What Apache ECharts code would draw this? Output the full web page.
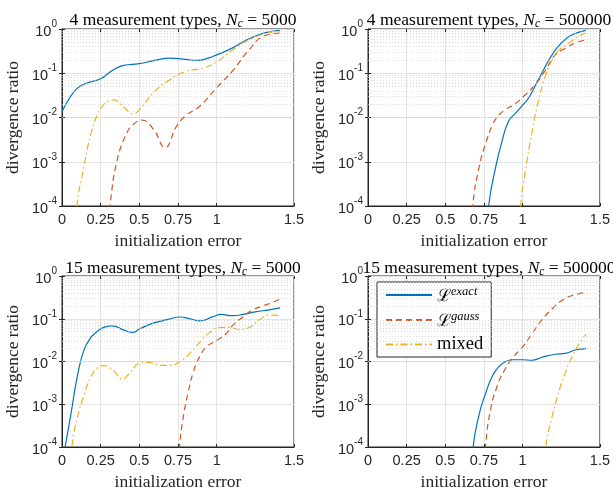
<!DOCTYPE html>
<html><head><meta charset="utf-8">
<script src="https://cdn.jsdelivr.net/npm/echarts@6/dist/echarts.min.js"></script>
<style>html,body{margin:0;padding:0;background:#fff}#c{width:613px;height:492px}</style>
</head><body><div id="c"></div>
<script>
// ---- data (x = initialization error, y = divergence ratio) ----
const xTicks = [0, 0.25, 0.5, 0.75, 1, 1.5];
const yDecades = [1e-4, 1e-3, 1e-2, 1e-1, 1];
const seriesNames = ['exact', 'gauss', 'mixed'];
const panelTitles = [
  ['4 measurement types, ', '5000'],
  ['4 measurement types, ', '500000'],
  ['15 measurement types, ', '5000'],
  ['15 measurement types, ', '500000']
];
// panel 1: 4 types, Nc = 5000
const p1Exact = [[0,0.0135],[0.05,0.028],[0.1,0.046],[0.15,0.058],[0.2,0.066],[0.25,0.075],[0.3,0.1],[0.35,0.13],[0.4,0.15],[0.5,0.165],[0.6,0.195],[0.7,0.22],[0.8,0.205],[0.875,0.195],[0.95,0.222],[1.0,0.26],[1.1,0.37],[1.2,0.58],[1.3,0.8],[1.35,0.87],[1.41,0.93]];
const p1Gauss = [[0.28,1e-5],[0.31,1e-4],[0.357,0.0011],[0.42,0.0045],[0.46,0.0069],[0.517,0.0087],[0.59,0.0055],[0.667,0.0021],[0.74,0.0063],[0.8,0.011],[0.89,0.018],[1.0,0.047],[1.1,0.11],[1.21,0.34],[1.3,0.68],[1.41,0.81]];
const p1Mixed = [[0.08,1e-5],[0.096,1e-4],[0.143,0.0008],[0.186,0.0042],[0.229,0.0118],[0.27,0.0195],[0.3,0.0235],[0.335,0.025],[0.4,0.017],[0.46,0.012],[0.5,0.015],[0.6,0.039],[0.7,0.072],[0.8,0.11],[0.91,0.13],[1.0,0.18],[1.1,0.33],[1.21,0.57],[1.32,0.8],[1.41,0.9]];
// panel 2: 4 types, Nc = 500000
const p2Exact = [[0.76,1e-5],[0.78,1e-4],[0.827,0.0008],[0.87,0.0032],[0.91,0.0083],[0.955,0.0126],[1.0,0.019],[1.04,0.028],[1.08,0.051],[1.13,0.11],[1.19,0.26],[1.25,0.48],[1.32,0.74],[1.41,0.93]];
const p2Gauss = [[0.66,1e-5],[0.677,1e-4],[0.72,0.0008],[0.763,0.0027],[0.806,0.0069],[0.85,0.0117],[0.89,0.015],[0.955,0.021],[1.02,0.033],[1.08,0.055],[1.15,0.12],[1.21,0.26],[1.28,0.37],[1.34,0.48],[1.41,0.57]];
const p2Mixed = [[0.975,1e-5],[0.987,1e-4],[1.02,0.00068],[1.06,0.0045],[1.105,0.026],[1.15,0.093],[1.19,0.2],[1.23,0.32],[1.3,0.48],[1.36,0.68],[1.41,0.81]];
// panel 3: 15 types, Nc = 5000
const p3Exact = [[0,4e-5],[0.02,1e-4],[0.058,0.0006],[0.1,0.0047],[0.143,0.019],[0.186,0.036],[0.229,0.051],[0.27,0.063],[0.325,0.068],[0.4,0.054],[0.453,0.048],[0.506,0.059],[0.59,0.079],[0.68,0.095],[0.763,0.11],[0.827,0.1],[0.89,0.089],[0.976,0.112],[1.03,0.126],[1.1,0.118],[1.17,0.126],[1.25,0.145],[1.34,0.162],[1.41,0.18]];
const p3Gauss = [[0.745,1e-5],[0.76,1e-4],[0.784,0.0005],[0.816,0.0019],[0.848,0.0055],[0.89,0.013],[0.934,0.022],[1.0,0.031],[1.06,0.044],[1.1,0.068],[1.17,0.11],[1.23,0.16],[1.3,0.2],[1.36,0.24],[1.41,0.29]];
const p3Mixed = [[0.05,1e-5],[0.064,1e-4],[0.1,0.0005],[0.143,0.00166],[0.186,0.0043],[0.229,0.0071],[0.27,0.008],[0.335,0.006],[0.39,0.0039],[0.44,0.0055],[0.506,0.0093],[0.57,0.0095],[0.635,0.0081],[0.7,0.0081],[0.763,0.01],[0.827,0.0155],[0.89,0.028],[0.955,0.048],[1.02,0.062],[1.083,0.063],[1.147,0.056],[1.21,0.062],[1.276,0.095],[1.34,0.123],[1.41,0.117]];
// panel 4: 15 types, Nc = 500000
const p4Exact = [[0.665,1e-5],[0.68,1e-4],[0.72,0.0006],[0.763,0.0019],[0.806,0.0047],[0.85,0.0078],[0.89,0.01],[0.934,0.011],[1.0,0.011],[1.06,0.0107],[1.126,0.0126],[1.21,0.0148],[1.276,0.0155],[1.34,0.0186],[1.41,0.02]];
const p4Gauss = [[0.745,1e-5],[0.76,1e-4],[0.795,0.00083],[0.838,0.0028],[0.88,0.006],[0.934,0.012],[1.0,0.022],[1.06,0.044],[1.126,0.095],[1.19,0.17],[1.25,0.26],[1.32,0.35],[1.41,0.41]];
const p4Mixed = [[1.135,1e-5],[1.15,1e-4],[1.19,0.0005],[1.233,0.0019],[1.276,0.0055],[1.32,0.013],[1.36,0.024],[1.41,0.044]];

const panels = [[p1Exact,p1Gauss,p1Mixed],[p2Exact,p2Gauss,p2Mixed],[p3Exact,p3Gauss,p3Mixed],[p4Exact,p4Gauss,p4Mixed]];

// ---- layout / style ----
const grids = [
  {left:62, top:29, width:232, height:177},
  {left:368, top:29, width:232, height:177},
  {left:62, top:276, width:232, height:177},
  {left:368, top:276, width:232, height:177}
];
const colors = ['#0072BD', '#D95319', '#EDB120'];
const dashes = ['solid', [6, 4], [7, 3, 1.5, 3]];
const axisCol = '#262626';
const serif = '"Liberation Serif", "DejaVu Serif", serif';
const sans = '"Liberation Sans", Arial, sans-serif';

const minorVals = [];
for (let i = 0; i < yDecades.length - 1; i++) for (let k = 2; k <= 9; k++) minorVals.push(k * yDecades[i]);

const xMain = grids.map((g, i) => ({
  type: 'value', gridIndex: i, min: 0, max: 1.5, interval: 0.25,
  name: 'initialization error', nameLocation: 'middle', nameGap: 26,
  nameTextStyle: { fontFamily: serif, fontSize: 17.5, color: '#262626' },
  axisLine: { show: true, lineStyle: { color: axisCol, width: 1 } },
  axisTick: { show: true, inside: true, length: 3, customValues: xTicks, lineStyle: { color: axisCol } },
  axisLabel: { fontFamily: sans, fontSize: 14.5, color: axisCol, margin: 6, customValues: xTicks,
    formatter: v => String(v) },
  splitLine: { show: true, lineStyle: { color: '#e3e3e3', width: 1 } }
}));
const xTop = grids.map((g, i) => ({
  type: 'value', gridIndex: i, position: 'top', min: 0, max: 1.5, interval: 0.25,
  axisLine: { show: false },
  axisTick: { show: true, inside: true, length: 3, customValues: xTicks, lineStyle: { color: axisCol } },
  axisLabel: { show: false }, splitLine: { show: false }
}));
const yMain = grids.map((g, i) => ({
  type: 'log', logBase: 10, gridIndex: i, min: 1e-4, max: 1,
  name: 'divergence ratio', nameLocation: 'middle', nameGap: 40,
  nameTextStyle: { fontFamily: serif, fontSize: 17.5, color: '#262626' },
  axisLine: { show: true, lineStyle: { color: axisCol, width: 1 } },
  axisTick: { show: true, inside: true, length: 3, lineStyle: { color: axisCol } },
  axisLabel: { margin: 5,
    formatter: v => '{b|10}{s|' + Math.round(Math.log10(v)) + '}',
    rich: {
      b: { fontFamily: sans, fontSize: 14.5, color: axisCol, lineHeight: 20, verticalAlign: 'bottom' },
      s: { fontFamily: sans, fontSize: 10, color: axisCol, lineHeight: 10, verticalAlign: 'top' }
    } },
  splitLine: { show: true, lineStyle: { color: '#e3e3e3', width: 1 } }
}));
const yRight = grids.map((g, i) => ({
  type: 'log', logBase: 10, gridIndex: i, position: 'right', min: 1e-4, max: 1,
  axisLine: { show: false },
  axisTick: { show: true, inside: true, length: 3, lineStyle: { color: axisCol } },
  axisLabel: { show: false }, splitLine: { show: false }
}));

const option = {
  animation: false,
  backgroundColor: '#fff',
  title: grids.map((g, i) => ({
    text: '{t|' + panelTitles[i][0] + '}{i|N}{s|c}{t| = ' + panelTitles[i][1] + '}',
    left: g.left + g.width / 2, top: i < 2 ? 5 : 253, textAlign: 'center',
    textStyle: { fontWeight: 'normal', rich: {
      t: { fontFamily: serif, fontSize: 17.5, fontWeight: 'normal', color: '#000', lineHeight: 20 },
      i: { fontFamily: serif, fontSize: 17.5, fontWeight: 'normal', fontStyle: 'italic', color: '#000', lineHeight: 20 },
      s: { fontFamily: serif, fontSize: 11.5, fontWeight: 'normal', fontStyle: 'italic', color: '#000', lineHeight: 11, verticalAlign: 'bottom' }
    } }
  })),
  grid: grids.map(g => Object.assign({ show: true, borderColor: axisCol, borderWidth: 1, backgroundColor: '#fff' }, g)),
  xAxis: xMain.concat(xTop),
  yAxis: yMain.concat(yRight),
  legend: {
    data: seriesNames, orient: 'vertical', left: 377, top: 282,
    backgroundColor: '#fff', borderColor: axisCol, borderWidth: 1, borderRadius: 0,
    padding: [3, 8, 3, 8], itemWidth: 46, itemHeight: 14, itemGap: 5,
    itemStyle: { opacity: 0, borderWidth: 0 },
    formatter: n => n === 'mixed' ? '{m|mixed}' : '{L|ℒ}{s|' + n + '}',
    textStyle: { rich: {
      L: { fontFamily: '"DejaVu Serif", serif', fontSize: 17, color: '#000', lineHeight: 20, verticalAlign: 'bottom' },
      s: { fontFamily: serif, fontSize: 12.5, fontStyle: 'italic', color: '#000', lineHeight: 10, verticalAlign: 'top' },
      m: { fontFamily: serif, fontSize: 18.5, color: '#000', lineHeight: 20 }
    } }
  },
  series: []
};

panels.forEach((p, gi) => {
  option.series.push({
    type: 'line', xAxisIndex: gi, yAxisIndex: gi, data: [], silent: true, z: 1,
    markLine: { silent: true, symbol: ['none', 'none'], label: { show: false }, animation: false,
      lineStyle: { color: '#c9c9c9', type: [1, 2], width: 0.7 },
      data: minorVals.map(v => ({ yAxis: v })) }
  });
  p.forEach((d, si) => {
    option.series.push({
      name: seriesNames[si], type: 'line', xAxisIndex: gi, yAxisIndex: gi, data: d,
      showSymbol: false, symbol: 'none', smooth: 0.5, clip: true, z: 3,
      color: colors[si],
      lineStyle: { color: colors[si], width: 1.2, type: dashes[si] }
    });
  });
});

const chart = echarts.init(document.getElementById('c'), null, { renderer: 'canvas' });
chart.setOption(option);
</script></body></html>
